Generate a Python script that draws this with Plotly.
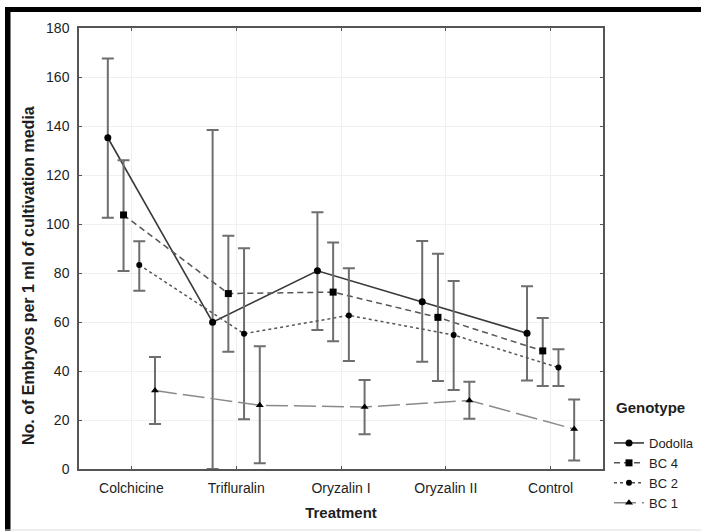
import plotly.graph_objects as go

treatments = ["Colchicine", "Trifluralin", "Oryzalin I", "Oryzalin II", "Control"]
genotypes = ["Dodolla", "BC 4", "BC 2", "BC 1"]

dodolla_mean = [135.2, 59.9, 80.9, 68.3, 55.4]
dodolla_upper = [167.6, 138.4, 104.8, 93.1, 74.6]
dodolla_lower = [102.6, 0.0, 56.7, 43.8, 36.1]

bc4_mean = [103.7, 71.6, 72.2, 61.9, 48.2]
bc4_upper = [126.0, 95.2, 92.5, 87.9, 61.6]
bc4_lower = [80.8, 47.9, 52.1, 35.9, 33.9]

bc2_mean = [83.3, 55.2, 62.7, 54.7, 41.4]
bc2_upper = [93.0, 90.1, 81.9, 76.7, 48.9]
bc2_lower = [72.8, 20.3, 44.1, 32.2, 33.9]

bc1_mean = [32.0, 26.0, 25.3, 28.0, 16.3]
bc1_upper = [45.7, 50.1, 36.3, 35.6, 28.4]
bc1_lower = [18.4, 2.3, 14.2, 20.5, 3.5]

y_ticks = [0, 20, 40, 60, 80, 100, 120, 140, 160, 180]

series = [
    (genotypes[0], dodolla_mean, dodolla_upper, dodolla_lower,
     dict(color="#3a3a3a", width=1.6, dash="solid"), dict(symbol="circle", size=7)),
    (genotypes[1], bc4_mean, bc4_upper, bc4_lower,
     dict(color="#555555", width=1.5, dash="6px,4px"), dict(symbol="square", size=7)),
    (genotypes[2], bc2_mean, bc2_upper, bc2_lower,
     dict(color="#555555", width=1.5, dash="dot"), dict(symbol="circle", size=6)),
    (genotypes[3], bc1_mean, bc1_upper, bc1_lower,
     dict(color="#8a8a8a", width=1.5, dash="22px,6px"), dict(symbol="triangle-up", size=7)),
]
offsets = [-0.225, -0.075, 0.075, 0.225]

fig = go.Figure()
for (name, mean, up, lo, line, marker), off in zip(series, offsets):
    fig.add_trace(go.Scatter(
        x=[i + off for i in range(len(treatments))],
        y=mean,
        name=name,
        mode="lines+markers",
        line=line,
        marker=dict(color="black", **marker),
        error_y=dict(
            type="data", symmetric=False,
            array=[u - m for u, m in zip(up, mean)],
            arrayminus=[m - l for m, l in zip(mean, lo)],
            color="#6e6e6e", thickness=2, width=6,
        ),
    ))

L, R, T, B = 79, 98, 28, 63
W, H = 701, 532
pw, ph = W - L - R, H - T - B

def px_x(p):
    return (p - L) / pw

def px_y(p):
    return (H - B - p) / ph

TXT = "#1e1e1e"
fig.update_layout(
    width=W, height=H,
    margin=dict(l=L, r=R, t=T, b=B, pad=0, autoexpand=False),
    paper_bgcolor="white", plot_bgcolor="white",
    font=dict(family="Liberation Sans, Arial, sans-serif", size=14, color=TXT),
    showlegend=True,
    legend=dict(
        x=px_x(609), y=px_y(428), xanchor="left", yanchor="top",
        font=dict(size=13, color=TXT),
        bgcolor="rgba(0,0,0,0)", tracegroupgap=0, itemwidth=30,
        borderwidth=0,
    ),
    xaxis=dict(
        range=[-0.5, 4.5], tickvals=list(range(len(treatments))), ticktext=treatments,
        showgrid=True, gridcolor="#f0f0f0", gridwidth=1,
        showline=True, linecolor="#555555", linewidth=1.5, mirror="ticks",
        ticks="inside", ticklen=3, tickcolor="#555555",
        zeroline=False, ticklabelstandoff=5, automargin=False,
        title=dict(text="<b>Treatment</b>", standoff=13, font=dict(size=15)),
    ),
    yaxis=dict(
        range=[0, 180], tickvals=y_ticks,
        showgrid=True, gridcolor="#f0f0f0", gridwidth=1,
        showline=True, linecolor="#555555", linewidth=1.5, mirror="ticks",
        ticks="inside", ticklen=3, tickcolor="#555555",
        zeroline=False, ticklabelstandoff=5, automargin=False,
    ),
    annotations=[
        dict(text="<b>No. of Embryos per 1 ml of cultivation media</b>",
             xref="paper", yref="paper", x=px_x(28), y=px_y(276),
             xanchor="center", yanchor="middle", textangle=-90,
             showarrow=False, font=dict(size=16, color=TXT)),
        dict(text="<b>Genotype</b>",
             xref="paper", yref="paper", x=px_x(614), y=px_y(407),
             xanchor="left", yanchor="middle",
             showarrow=False, font=dict(size=15, color=TXT)),
    ],
    shapes=[
        dict(type="rect", xref="paper", yref="paper",
             x0=px_x(5), x1=px_x(10.5), y0=px_y(531), y1=px_y(7),
             fillcolor="black", line=dict(width=0), layer="above"),
        dict(type="rect", xref="paper", yref="paper",
             x0=px_x(5), x1=px_x(701), y0=px_y(12), y1=px_y(7),
             fillcolor="black", line=dict(width=0), layer="above"),
        dict(type="line", xref="paper", yref="paper",
             x0=px_x(5), x1=px_x(701), y0=px_y(530), y1=px_y(530),
             line=dict(color="#dddddd", width=1), layer="above"),
    ],
)

post = ("document.documentElement.style.overflow='hidden';"
        "document.body.style.overflow='hidden';"
        "document.body.style.margin='0';")
fig.write_html("out.html", post_script=post)
